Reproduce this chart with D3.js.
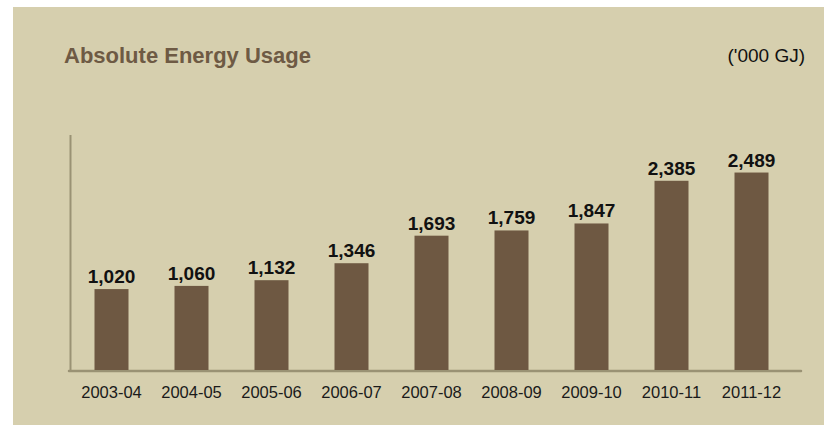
<!DOCTYPE html>
<html lang="en">
<head>
    <meta charset="UTF-8">
    <title>Absolute Energy Usage</title>
    <script src="https://d3js.org/d3.v7.min.js"></script>
    <style>
        body { margin: 0; background: #fff; }
        svg text { font-family: "Liberation Sans", Arial, sans-serif; }
        .value { font-size: 19px; font-weight: bold; fill: #111; }
        .cat { font-size: 16.5px; fill: #1a1a1a; }
    </style>
</head>
<body>
    <svg width="824" height="425"></svg>

    <script>
        // Chart data
        const years = ["2003-04", "2004-05", "2005-06", "2006-07", "2007-08", "2008-09", "2009-10", "2010-11", "2011-12"];
        const usage = [1020, 1060, 1132, 1346, 1693, 1759, 1847, 2385, 2489];

        const svg = d3.select("svg");

        // panel background
        svg.append("rect")
            .attr("x", 13).attr("y", 7)
            .attr("width", 811).attr("height", 418)
            .attr("fill", "#d6cfae");

        const x = d3.scaleBand()
            .domain(years)
            .range([71.5, 791.5])
            .paddingInner(0.575)
            .paddingOuter(0.2875);

        const y = d3.scaleLinear()
            .domain([0, 3000])
            .range([370, 132]);

        // title and unit
        svg.append("text")
            .attr("x", 64).attr("y", 63)
            .attr("fill", "#6e5a44")
            .style("font-size", "22px")
            .style("font-weight", "bold")
            .text("Absolute Energy Usage");

        svg.append("text")
            .attr("x", 805).attr("y", 62)
            .attr("text-anchor", "end")
            .attr("fill", "#111")
            .style("font-size", "19px")
            .text("('000 GJ)");

        // axes lines
        svg.append("line")
            .attr("x1", 70.5).attr("x2", 70.5)
            .attr("y1", y.range()[1] + 3).attr("y2", y(0) + 2)
            .attr("stroke", "#9a9274").attr("stroke-width", 2);

        svg.append("line")
            .attr("x1", 69).attr("x2", 801)
            .attr("y1", y(0) + 1).attr("y2", y(0) + 1)
            .attr("stroke", "#9a9274").attr("stroke-width", 2.5)
            .attr("stroke-linecap", "round");

        // bars
        svg.selectAll(".bar")
            .data(usage)
            .enter()
            .append("rect")
            .attr("class", "bar")
            .attr("x", (d, i) => x(years[i]))
            .attr("y", d => y(d))
            .attr("width", x.bandwidth())
            .attr("height", d => y(0) - y(d))
            .attr("fill", "#6e5842");

        // value labels
        svg.selectAll(".value")
            .data(usage)
            .enter()
            .append("text")
            .attr("class", "value")
            .attr("x", (d, i) => x(years[i]) + x.bandwidth() / 2)
            .attr("y", d => y(d) - 6)
            .attr("text-anchor", "middle")
            .text(d => d3.format(",")(d));

        // category labels
        svg.selectAll(".cat")
            .data(years)
            .enter()
            .append("text")
            .attr("class", "cat")
            .attr("x", d => x(d) + x.bandwidth() / 2)
            .attr("y", 398)
            .attr("text-anchor", "middle")
            .text(d => d);
    </script>
</body>
</html>
